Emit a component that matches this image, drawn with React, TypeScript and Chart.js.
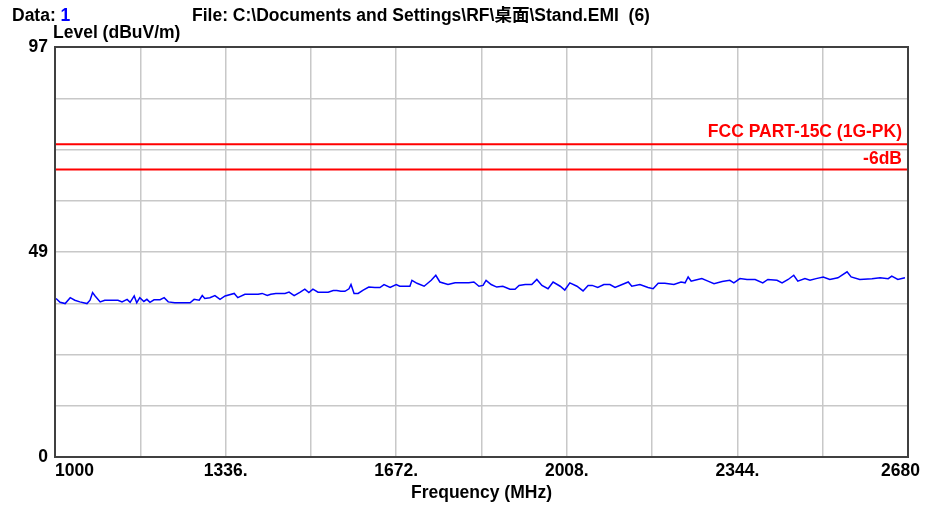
import { useEffect, useRef } from 'react';
import { Chart, registerables } from 'chart.js';

Chart.register(...registerables);

// ---- data ----
const FREQ_MHZ = [
  1002, 1010, 1020, 1030, 1039, 1049, 1063, 1069, 1074, 1079, 1089, 1098, 1112, 1124, 1132, 1142,
  1148, 1156, 1161, 1167, 1175, 1181, 1187, 1195, 1207, 1215, 1223, 1236, 1250, 1266, 1274, 1284,
  1290, 1295, 1305, 1315, 1325, 1335, 1353, 1360, 1374, 1388, 1400, 1408, 1418, 1425, 1435, 1443,
  1453, 1461, 1471, 1483, 1492, 1500, 1508, 1518, 1530, 1538, 1548, 1555, 1563, 1571, 1579, 1583,
  1589, 1597, 1607, 1618, 1630, 1640, 1648, 1660, 1672, 1679, 1689, 1699, 1703, 1713, 1727, 1741,
  1750, 1758, 1774, 1788, 1802, 1815, 1825, 1835, 1843, 1849, 1859, 1870, 1882, 1896, 1906, 1914,
  1926, 1939, 1949, 1959, 1971, 1981, 1995, 2004, 2014, 2028, 2040, 2050, 2058, 2069, 2081, 2093,
  2103, 2117, 2129, 2136, 2152, 2168, 2178, 2188, 2201, 2219, 2233, 2241, 2247, 2253, 2260, 2274,
  2286, 2298, 2314, 2329, 2337, 2349, 2363, 2379, 2394, 2404, 2422, 2432, 2444, 2455, 2463, 2477,
  2487, 2499, 2513, 2526, 2542, 2560, 2568, 2585, 2609, 2625, 2641, 2648, 2660, 2674,
];

const LEVEL_DBUV = [
  37.5, 36.6, 36.3, 37.7, 37.1, 36.7, 36.3, 37.1, 38.9, 38.1, 36.7, 37.1, 37.1, 37.1, 36.7, 37.3,
  36.6, 38.1, 36.5, 37.7, 36.8, 37.3, 36.6, 37.2, 37.2, 37.7, 36.7, 36.5, 36.5, 36.5, 37.3, 37.1,
  38.2, 37.5, 37.7, 38.2, 37.3, 38.1, 38.7, 37.7, 38.5, 38.5, 38.5, 38.7, 38.2, 38.5, 38.7, 38.7,
  38.7, 39.0, 38.2, 39.0, 39.7, 38.9, 39.7, 39.0, 39.0, 39.0, 39.4, 39.4, 39.2, 39.2, 39.8, 40.8,
  38.7, 38.7, 39.5, 40.2, 40.1, 40.1, 40.8, 40.1, 40.8, 40.4, 40.4, 40.4, 41.8, 41.1, 40.4, 41.8,
  43.0, 41.4, 40.8, 41.2, 41.2, 41.2, 41.4, 40.4, 40.6, 41.8, 40.8, 40.2, 40.4, 39.7, 39.7, 40.6,
  40.8, 40.8, 42.0, 40.6, 39.8, 41.4, 40.4, 39.5, 41.2, 40.4, 39.3, 40.6, 40.6, 40.1, 40.8, 40.8,
  40.1, 40.8, 41.4, 40.4, 40.8, 40.1, 39.8, 41.1, 41.1, 40.8, 41.4, 41.2, 42.6, 41.6, 41.8, 42.2,
  41.6, 41.0, 41.5, 41.8, 41.2, 42.2, 42.0, 42.0, 41.2, 42.0, 41.8, 41.2, 42.0, 43.0, 41.6, 42.2,
  41.8, 42.2, 42.6, 42.0, 42.4, 43.8, 42.6, 42.0, 42.2, 42.4, 42.2, 42.8, 42.0, 42.4,
];

const LIMIT_NAME = 'FCC PART-15C (1G-PK)';
const LIMIT_LEVEL = 74;
const MARGIN_NAME = '-6dB';
const MARGIN_LEVEL = 68;

const X_MIN = 1000;
const X_MAX = 2680;
const X_TICK_VALUES = [1000, 1168, 1336, 1504, 1672, 1840, 2008, 2176, 2344, 2512, 2680];
const X_TICK_LABELS = ['1000', '', '1336.', '', '1672.', '', '2008.', '', '2344.', '', '2680'];

const Y_MIN = 0;
const Y_MAX = 97;
const Y_TICK_VALUES = [0, 12.125, 24.25, 36.375, 48.5, 60.625, 72.75, 84.875, 97];
const Y_TICK_LABELS = ['0', '', '', '', '49', '', '', '', '97'];

const DATA_LABEL = 'Data: ';
const DATA_NUM = '1';
const FILE_TEXT = 'File: C:\\Documents and Settings\\RF\\桌面\\Stand.EMI  (6)';
const Y_TITLE = 'Level (dBuV/m)';
const X_TITLE = 'Frequency (MHz)';

// ---- styling ----
const FAMILY = '"Liberation Sans", Arial, "Noto Sans CJK SC", sans-serif';
const FONT_SIZE = 17.5;
const CSS_FONT = `bold ${FONT_SIZE}px ${FAMILY}`;
const GRID_COLOR = '#c8c8c8';
const FRAME_COLOR = '#404040';
const TRACE_COLOR = '#0000ff';
const LIMIT_COLOR = '#ff0000';

const overlayPlugin = {
  id: 'emiOverlay',
  afterDraw(chart: any) {
    const { ctx, chartArea, scales } = chart;
    const xs = scales.x;
    const ys = scales.y;
    ctx.save();
    // plot frame
    ctx.strokeStyle = FRAME_COLOR;
    ctx.lineWidth = 2;
    ctx.strokeRect(
      chartArea.left,
      chartArea.top,
      chartArea.right - chartArea.left,
      chartArea.bottom - chartArea.top
    );

    ctx.font = CSS_FONT;
    ctx.textBaseline = 'alphabetic';
    ctx.textAlign = 'left';
    // header line
    ctx.fillStyle = '#000000';
    ctx.fillText(DATA_LABEL, 12, 21);
    const w = ctx.measureText(DATA_LABEL).width;
    ctx.fillStyle = TRACE_COLOR;
    ctx.fillText(DATA_NUM, 12 + w, 21);
    ctx.fillStyle = '#000000';
    ctx.fillText(FILE_TEXT, 192, 21);
    // y title (horizontal, above the plot)
    ctx.fillText(Y_TITLE, chartArea.left - 2, chartArea.top - 9);

    // last x tick label sits past the frame's right edge
    ctx.textAlign = 'right';
    ctx.textBaseline = 'middle';
    const last = X_TICK_LABELS.length - 1;
    ctx.fillText(
      X_TICK_LABELS[last],
      xs.getPixelForValue(X_TICK_VALUES[last]) + 12,
      chartArea.bottom + 4 + (FONT_SIZE * 1.2) / 2
    );

    // limit labels
    ctx.textBaseline = 'alphabetic';
    ctx.fillStyle = LIMIT_COLOR;
    ctx.fillText(LIMIT_NAME, chartArea.right - 6, ys.getPixelForValue(LIMIT_LEVEL) - 7);
    ctx.fillText(MARGIN_NAME, chartArea.right - 6, ys.getPixelForValue(MARGIN_LEVEL) - 6);
    ctx.restore();
  },
};

export default function App() {
  const canvasRef = useRef<HTMLCanvasElement | null>(null);

  useEffect(() => {
    const canvas = canvasRef.current;
    if (!canvas) return;
    const font = { family: FAMILY, size: FONT_SIZE, weight: 'bold' as const };

    const trace = FREQ_MHZ.map((f, i) => ({ x: f, y: LEVEL_DBUV[i] }));
    const limit = [
      { x: X_MIN, y: LIMIT_LEVEL },
      { x: X_MAX, y: LIMIT_LEVEL },
    ];
    const margin = [
      { x: X_MIN, y: MARGIN_LEVEL },
      { x: X_MAX, y: MARGIN_LEVEL },
    ];

    const chart = new Chart(canvas, {
      type: 'line',
      data: {
        datasets: [
          {
            label: LIMIT_NAME,
            data: limit,
            borderColor: LIMIT_COLOR,
            borderWidth: 2,
            pointRadius: 0,
          },
          {
            label: MARGIN_NAME,
            data: margin,
            borderColor: LIMIT_COLOR,
            borderWidth: 2,
            pointRadius: 0,
          },
          {
            label: 'Data 1',
            data: trace,
            borderColor: TRACE_COLOR,
            borderWidth: 1.5,
            pointRadius: 0,
            tension: 0,
          },
        ],
      },
      options: {
        animation: false,
        responsive: false,
        events: [],
        layout: { padding: { top: 47, right: 17, left: 0, bottom: 0 } },
        plugins: {
          legend: { display: false },
          tooltip: { enabled: false },
          title: { display: false },
        },
        scales: {
          x: {
            type: 'linear',
            min: X_MIN,
            max: X_MAX,
            afterBuildTicks: (s: any) => {
              s.ticks = X_TICK_VALUES.map((v) => ({ value: v }));
            },
            afterFit: (s: any) => {
              s.height = 51;
            },
            ticks: {
              autoSkip: false,
              maxRotation: 0,
              minRotation: 0,
              align: 'inner',
              padding: 4,
              color: '#000000',
              font,
              callback: (_v: any, i: number) =>
                i === X_TICK_LABELS.length - 1 ? '' : X_TICK_LABELS[i],
            },
            grid: { color: GRID_COLOR, lineWidth: 1.5, drawTicks: false },
            border: { display: false },
            title: {
              display: true,
              text: X_TITLE,
              color: '#000000',
              font,
              padding: { top: 0, bottom: 4 },
            },
          },
          y: {
            type: 'linear',
            min: Y_MIN,
            max: Y_MAX,
            afterBuildTicks: (s: any) => {
              s.ticks = Y_TICK_VALUES.map((v) => ({ value: v }));
            },
            afterFit: (s: any) => {
              s.width = 55;
            },
            ticks: {
              autoSkip: false,
              padding: 7,
              color: '#000000',
              font,
              callback: (_v: any, i: number) => Y_TICK_LABELS[i],
            },
            grid: { color: GRID_COLOR, lineWidth: 1.5, drawTicks: false },
            border: { display: false },
          },
        },
      },
      plugins: [overlayPlugin],
    });

    return () => chart.destroy();
  }, []);

  return (
    <div style={{ position: 'fixed', left: 0, top: 0, width: 925, height: 508, background: '#ffffff' }}>
      <canvas ref={canvasRef} width={925} height={508} />
    </div>
  );
}
